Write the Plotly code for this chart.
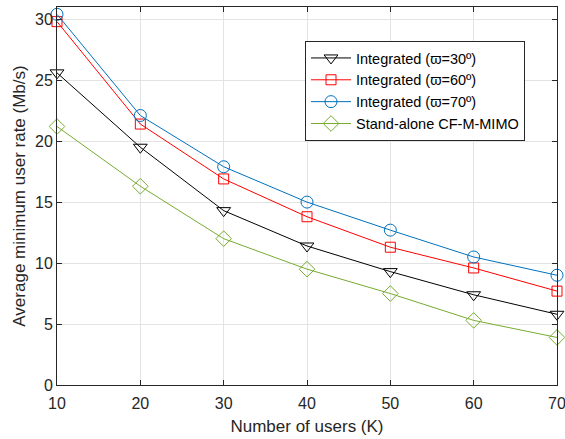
import plotly.graph_objects as go

users = [10, 20, 30, 40, 50, 60, 70]
int30 = [25.6, 19.5, 14.3, 11.4, 9.3, 7.4, 5.8]
int60 = [29.8, 21.4, 16.9, 13.8, 11.3, 9.6, 7.7]
int70 = [30.4, 22.1, 17.9, 15.0, 12.7, 10.5, 9.0]
standalone = [21.2, 16.3, 12.0, 9.5, 7.5, 5.3, 3.9]

names = ["Integrated (ϖ=30º)", "Integrated (ϖ=60º)", "Integrated (ϖ=70º)", "Stand-alone CF-M-MIMO"]
colors = ["#000000", "#FF0000", "#0072BD", "#77AC30"]
symbols = ["triangle-down-open", "square-open", "circle-open", "diamond-open"]
sizes = [12, 10, 12, 12]
series = [int30, int60, int70, standalone]

FONT = "Liberation Sans, Arial"

fig = go.Figure()
for n, c, s, sz, y in zip(names, colors, symbols, sizes, series):
    fig.add_trace(go.Scatter(x=users, y=y, name=n, mode="lines+markers", cliponaxis=False,
                             line=dict(color=c, width=1),
                             marker=dict(symbol=s, size=sz, color=c, line=dict(width=1, color=c))))

axis_common = dict(showline=True, linecolor="#262626", linewidth=1, mirror="ticks",
                   ticks="inside", ticklen=5, tickcolor="#262626",
                   showgrid=True, gridcolor="#E3E3E3", gridwidth=1, zeroline=False,
                   ticklabeloverflow="allow", automargin=False,
                   tickfont=dict(family=FONT, size=16, color="#262626"),
                   title_font=dict(family=FONT, size=17, color="#262626"))

fig.update_xaxes(range=[10, 70], dtick=10, title_text="Number of users (K)", title_standoff=8,
                 ticklabelstandoff=4, **axis_common)
fig.update_yaxes(range=[0, 31], tickvals=[0, 5, 10, 15, 20, 25, 30], title_text="Average minimum user rate (Mb/s)",
                 title_standoff=5, **axis_common)

fig.update_layout(width=565, height=439, margin=dict(l=57, r=8, t=7, b=54),
                  plot_bgcolor="white", paper_bgcolor="white",
                  font=dict(family=FONT, color="#262626"),
                  legend=dict(x=0.496, y=0.91, xanchor="left", yanchor="top",
                              bgcolor="white", bordercolor="#262626", borderwidth=1,
                              font=dict(size=14.5, family=FONT, color="#000000"),
                              tracegroupgap=0, itemwidth=40))

fig.write_html("out.html")
